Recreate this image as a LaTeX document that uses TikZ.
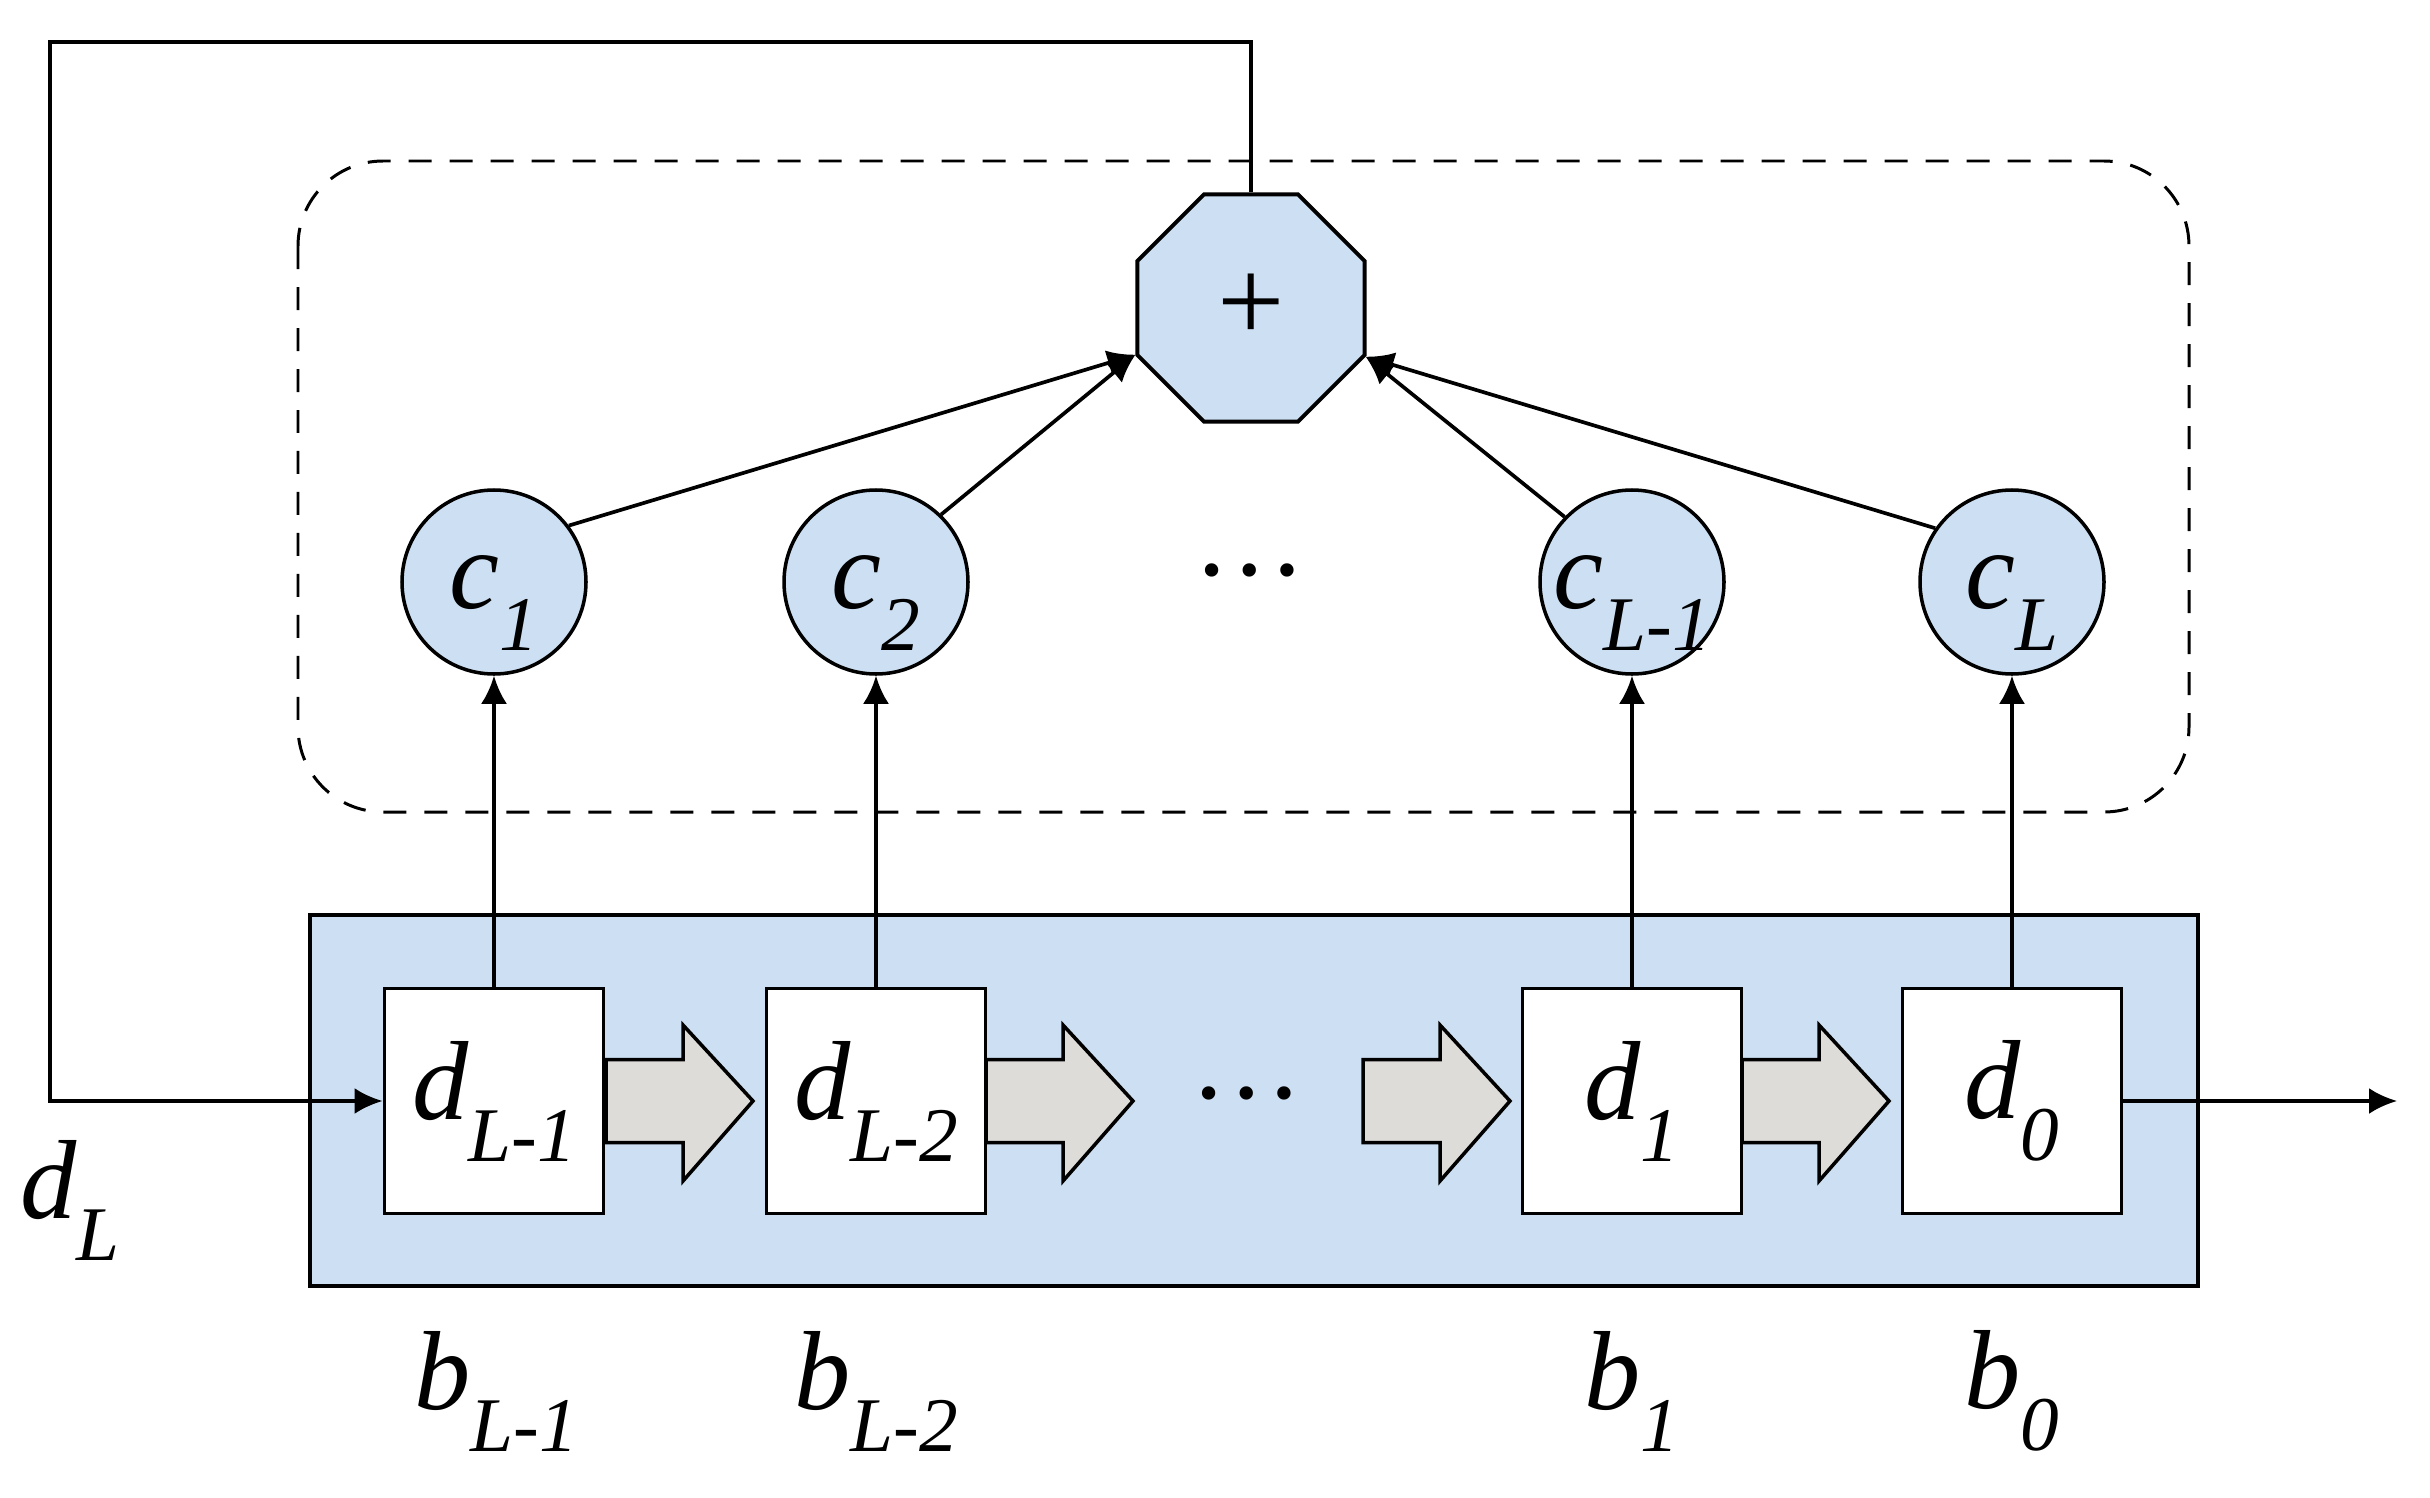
\documentclass[tikz,border=0pt]{standalone}
\usepackage{fontspec}
\setmainfont{Liberation Serif}
\usepackage{xcolor}
\usetikzlibrary{shapes.geometric,arrows.meta,calc}
\definecolor{regblue}{RGB}{205,224,243}
\definecolor{shiftgray}{RGB}{222,220,217}
% letter with a low subscript, as in the figure
\newcommand{\lbl}[2]{\textit{#1}\raisebox{-0.42cm}{\fontsize{22}{24}\selectfont\textit{#2}}}

\begin{document}
\begin{tikzpicture}[
    every node/.style={font=\fontsize{32}{36}\selectfont},
    reg/.style={draw, line width=1.1pt, fill=white, minimum width=2.19cm, minimum height=2.25cm, inner sep=0pt},
    tap/.style={draw, circle, line width=1pt, fill=regblue, minimum size=1.84cm, inner sep=0pt, text depth=0pt},
    adder/.style={draw, regular polygon, regular polygon sides=8, line width=1.1pt, fill=regblue, minimum size=2.46cm, inner sep=0pt},
    conn/.style={line width=1.05pt, -{Latex[length=0.28cm,width=0.26cm]}},
    shiftarr/.style={draw, line width=1pt, fill=shiftgray},
  ]
  \useasboundingbox (0,0) rectangle (24.30,-14.98);

  % frames
  \draw[line width=0.85pt, dash pattern=on 0.23cm off 0.18cm, rounded corners=0.85cm] (2.98,-1.61) rectangle (21.89,-8.12);
  \draw[line width=1.1pt, fill=regblue] (3.10,-9.15) rectangle (21.98,-12.86);

  % shift arrows
  \foreach \x in {6.06,9.86,13.63,17.42}
    \draw[shiftarr] (\x,-10.595) -- ++(0.77,0) -- ++(0,0.345) -- ++(0.70,-0.76)
      -- ++(-0.70,-0.80) -- ++(0,0.385) -- ++(-0.77,0) -- cycle;

  % registers
  \node[reg] (dL1) at (4.94,-11.01) {\lbl{d}{L-1}};
  \node[reg] (dL2) at (8.76,-11.01) {\lbl{d}{L-2}};
  \node[reg] (d1) at (16.32,-11.01) {\lbl{d}{1}};
  \node[reg] (d0) at (20.12,-11.01) {\lbl{d}{0}};
  \node (botdots) at (12.47,-10.93) {\ldots};

  % taps
  \node[tap] (c1) at (4.94,-5.82) {\lbl{c}{1}};
  \node[tap] (c2) at (8.76,-5.82) {\lbl{c}{2}};
  \node[tap] (cL1) at (16.32,-5.82) {\lbl{c}{L-1}};
  \node[tap] (cL) at (20.12,-5.82) {\lbl{c}{L}};
  \node (topdots) at (12.50,-5.70) {\ldots};

  % adder
  \node[adder] (sum) at (12.51,-3.08) {\fontsize{34}{36}\selectfont +};

  % labels
  \node (dL) at (0.70,-12.00) {\lbl{d}{L}};
  \node (bL1) at (4.96,-13.91) {\lbl{b}{L-1}};
  \node (bL2) at (8.76,-13.91) {\lbl{b}{L-2}};
  \node (b1) at (16.32,-13.91) {\lbl{b}{1}};
  \node (b0) at (20.12,-13.91) {\lbl{b}{0}};

  % connectors
  \coordinate (fbk) at (0.50,-0.42);
  \coordinate (out) at (23.97,-11.01);
  \draw[conn] (sum.north) |- (fbk) |- (dL1.west);
  \draw[conn] (d0.east) -- (out);
  \draw[conn] (dL1.north) -- (c1.south);
  \draw[conn] (dL2.north) -- (c2.south);
  \draw[conn] (d1.north) -- (cL1.south);
  \draw[conn] (d0.north) -- (cL.south);
  \draw[conn] (c1.37) -- (sum.202.5);
  \draw[conn] (c2.46) -- (sum.202.5);
  \draw[conn] (cL1.136) -- (sum.337.5);
  \draw[conn] (cL.145) -- (sum.337.5);
\end{tikzpicture}
\end{document}
